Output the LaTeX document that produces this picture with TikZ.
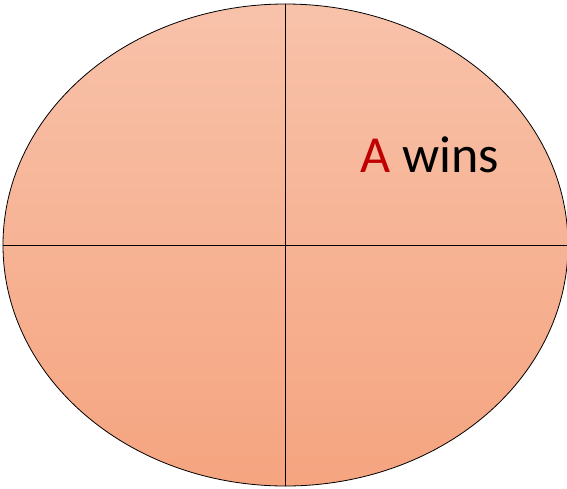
\documentclass[tikz,border=0pt]{standalone}
\usepackage{fontspec}
\setmainfont{Carlito}
\usetikzlibrary{shapes.geometric}
\definecolor{peachTop}{HTML}{F8C2AA}
\definecolor{peachBottom}{HTML}{F5A47F}
\definecolor{winRed}{HTML}{C00000}

\begin{document}
\begin{tikzpicture}[
  x=1pt, y=-1pt,
  field/.style={ellipse, draw=black, line width=0.8pt, inner sep=0pt,
    minimum width=565pt, minimum height=482pt,
    top color=peachTop, bottom color=peachBottom},
  divider/.style={draw=black, line width=1pt},
  label/.style={font=\fontsize{52}{60}\selectfont, anchor=base west, inner sep=0pt},
]
\useasboundingbox (0,0) rectangle (567,488);
\node[field] (oval) at (285.5,245) {};
\draw[divider] (oval.north) -- (oval.south);
\draw[divider] (oval.west) -- (oval.east);
\node[label] (wins) at (360,172) {\textcolor{winRed}{A} wins};
\end{tikzpicture}
\end{document}
